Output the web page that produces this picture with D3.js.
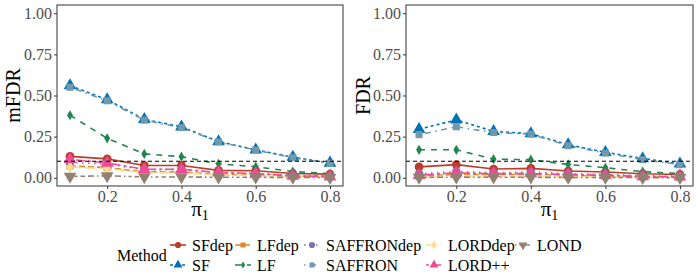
<!DOCTYPE html>
<html>
<head>
<meta charset="utf-8">
<script src="https://cdn.jsdelivr.net/npm/d3@7"></script>
<style>
  html, body { margin: 0; padding: 0; background: #fff; }
  svg { display: block; font-family: "Liberation Serif", "Times New Roman", serif; }
  svg text { font-family: "Liberation Serif", "Times New Roman", serif !important; }
</style>
</head>
<body>
<svg id="chart" width="698" height="279"></svg>
<script>
// ---------- data ----------
const pi1 = [0.1, 0.2, 0.3, 0.4, 0.5, 0.6, 0.7, 0.8];
const methods = ["SFdep", "SF", "LFdep", "LF", "SAFFRONdep", "SAFFRON", "LORDdep", "LORD++", "LOND"];
const xTicks = [0.2, 0.4, 0.6, 0.8];
const yTicks = [0.00, 0.25, 0.50, 0.75, 1.00];
const alphaLevel = 0.1;

// mFDR panel
const mfdrSFdep      = [0.130, 0.115, 0.075, 0.075, 0.045, 0.043, 0.026, 0.022];
const mfdrSF         = [0.560, 0.475, 0.355, 0.310, 0.220, 0.170, 0.125, 0.090];
const mfdrLFdep      = [0.072, 0.062, 0.036, 0.035, 0.020, 0.020, 0.010, 0.010];
const mfdrLF         = [0.380, 0.240, 0.145, 0.128, 0.085, 0.067, 0.038, 0.025];
const mfdrSAFFRONdep = [0.093, 0.083, 0.049, 0.050, 0.030, 0.026, 0.015, 0.012];
const mfdrSAFFRON    = [0.550, 0.468, 0.350, 0.305, 0.218, 0.168, 0.122, 0.088];
const mfdrLORDdep    = [0.065, 0.056, 0.030, 0.030, 0.016, 0.015, 0.008, 0.005];
const mfdrLORDpp     = [0.112, 0.090, 0.052, 0.052, 0.032, 0.026, 0.011, 0.006];
const mfdrLOND       = [0.008, 0.012, 0.005, 0.005, 0.003, 0.003, 0.002, 0.001];

// FDR panel
const fdrSFdep      = [0.066, 0.080, 0.053, 0.057, 0.041, 0.035, 0.024, 0.020];
const fdrSF         = [0.295, 0.352, 0.282, 0.268, 0.201, 0.155, 0.117, 0.085];
const fdrLFdep      = [0.010, 0.020, 0.020, 0.020, 0.015, 0.010, 0.005, 0.005];
const fdrLF         = [0.170, 0.170, 0.113, 0.110, 0.081, 0.061, 0.037, 0.026];
const fdrSAFFRONdep = [0.024, 0.038, 0.030, 0.035, 0.025, 0.020, 0.012, 0.010];
const fdrSAFFRON    = [0.262, 0.310, 0.275, 0.265, 0.195, 0.150, 0.110, 0.080];
const fdrLORDdep    = [0.005, 0.010, 0.010, 0.010, 0.008, 0.006, 0.004, 0.002];
const fdrLORDpp     = [0.015, 0.030, 0.025, 0.025, 0.020, 0.015, 0.008, 0.005];
const fdrLOND       = [0.002, 0.004, 0.003, 0.003, 0.002, 0.002, 0.001, 0.001];

const panelData = [
  { title: "mFDR", series: [mfdrSFdep, mfdrSF, mfdrLFdep, mfdrLF, mfdrSAFFRONdep, mfdrSAFFRON, mfdrLORDdep, mfdrLORDpp, mfdrLOND] },
  { title: "FDR",  series: [fdrSFdep, fdrSF, fdrLFdep, fdrLF, fdrSAFFRONdep, fdrSAFFRON, fdrLORDdep, fdrLORDpp, fdrLOND] }
];

// ---------- styles ----------
const SERIF = "'Liberation Serif', 'Times New Roman', serif";
const colors = ["#BC3C29", "#0072B5", "#E18727", "#20854E", "#7876B1", "#6F99AD", "#FFDC91", "#EE4C97", "#928071"];
const u = 1.5;
const dashes = [null, [2,2], [4,2], [4,4], [1,3], [1,3,4,3], [7,3], [2,2,6,2], [1,2,2,2,3,2,4,2]]
  .map(d => d ? d.map(v => v * u).join(",") : null);
const shapes = [
  { t: d3.symbolCircle, s: 60, r: 0 },
  { t: d3.symbolTriangle, s: 70, r: 0 },
  { t: d3.symbolSquare, s: 50, r: 0 },
  { t: d3.symbolDiamond, s: 30, r: 0 },
  { t: d3.symbolCircle, s: 60, r: 0 },
  { t: d3.symbolSquare, s: 50, r: 0 },
  { t: d3.symbolDiamond, s: 45, r: 0 },
  { t: d3.symbolTriangle, s: 70, r: 0 },
  { t: d3.symbolTriangle, s: 70, r: 180 }
];

const svg = d3.select("#chart");
const panels = [
  { x0: 57, x1: 343, titleX: 13 },
  { x0: 406, x1: 693, titleX: 363 }
];
const yTop = 5, yBot = 186;

panels.forEach((p, pi) => {
  const pd = panelData[pi];
  const xs = d3.scaleLinear().domain([0.1 - 0.035, 0.8 + 0.035]).range([p.x0, p.x1]);
  const ys = d3.scaleLinear().domain([-0.05, 1.05]).range([yBot, yTop]);
  const g = svg.append("g");

  // axes
  const xAxis = d3.axisBottom(xs).tickValues(xTicks).tickSize(3).tickPadding(2).tickFormat(d3.format(".1f"));
  const yAxis = d3.axisLeft(ys).tickValues(yTicks).tickSize(3).tickPadding(2).tickFormat(d3.format(".2f"));
  const gx = g.append("g").attr("transform", `translate(0,${yBot})`).call(xAxis);
  const gy = g.append("g").attr("transform", `translate(${p.x0},0)`).call(yAxis);
  [gx, gy].forEach(a => {
    a.attr("font-family", SERIF).attr("font-size", 16);
    a.select(".domain").remove();
    a.selectAll(".tick line").attr("stroke", "#333").attr("stroke-width", 1);
    a.selectAll(".tick text").attr("fill", "#4D4D4D").attr("font-family", SERIF).attr("font-size", 16);
  });

  // border
  g.append("rect").attr("x", p.x0).attr("y", yTop).attr("width", p.x1 - p.x0).attr("height", yBot - yTop)
    .attr("fill", "none").attr("stroke", "#333").attr("stroke-width", 1);

  // lines
  const line = d3.line().x((d, i) => xs(pi1[i])).y(d => ys(d));
  pd.series.forEach((vals, k) => {
    g.append("path").datum(vals).attr("d", line).attr("fill", "none")
      .attr("stroke", colors[k]).attr("stroke-width", 1.6)
      .attr("stroke-dasharray", dashes[k]);
  });
  // points
  pd.series.forEach((vals, k) => {
    const sh = shapes[k];
    g.selectAll(null).data(vals).enter().append("path")
      .attr("d", d3.symbol().type(sh.t).size(sh.s))
      .attr("transform", (d, i) => `translate(${xs(pi1[i])},${ys(d)}) rotate(${sh.r})`)
      .attr("fill", colors[k]);
  });

  // reference line
  g.append("line").attr("x1", p.x0).attr("x2", p.x1).attr("y1", ys(alphaLevel)).attr("y2", ys(alphaLevel))
    .attr("stroke", "#000").attr("stroke-width", 1.1).attr("stroke-dasharray", "4,3");

  // titles
  g.append("text").attr("transform", `translate(${p.titleX},${(yTop + yBot) / 2}) rotate(-90)`)
    .attr("text-anchor", "middle").attr("dy", "0.35em")
    .style("font-size", "20px").attr("fill", "#000").text(pd.title);
  const xt = g.append("text").attr("x", (p.x0 + p.x1) / 2).attr("y", 216).attr("text-anchor", "middle")
    .style("font-size", "21px").attr("fill", "#000");
  xt.append("tspan").text("π");
  xt.append("tspan").attr("dy", 4).style("font-size", "14px").text("1");
});

// ---------- legend ----------
const lg = svg.append("g");
lg.append("text").attr("x", 117).attr("y", 255).attr("dy", "0.35em").style("font-size", "16px").text("Method");
const colKeyX = [178, 243, 312, 434, 523];
const rowY = [245, 265];
methods.forEach((m, k) => {
  const col = Math.floor(k / 2), row = k % 2;
  const cx = colKeyX[col], cy = rowY[row];
  lg.append("line").attr("x1", cx - 8).attr("x2", cx + 8).attr("y1", cy).attr("y2", cy)
    .attr("stroke", colors[k]).attr("stroke-width", 1.6).attr("stroke-dasharray", dashes[k]);
  const sh = shapes[k];
  lg.append("path").attr("d", d3.symbol().type(sh.t).size(sh.s * 0.5))
    .attr("transform", `translate(${cx},${cy}) rotate(${sh.r})`).attr("fill", colors[k]);
  lg.append("text").attr("x", cx + 14).attr("y", cy).attr("dy", "0.35em")
    .style("font-size", "16px").text(m);
});
</script>
</body>
</html>
